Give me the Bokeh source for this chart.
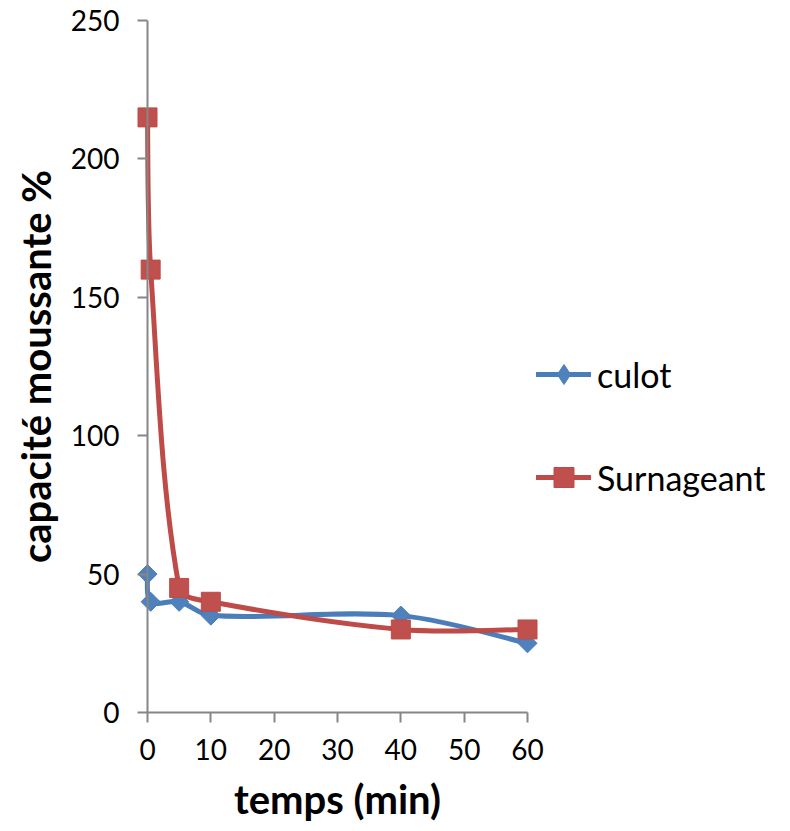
import numpy as np
from bokeh.plotting import figure
from bokeh.models import Range1d, FixedTicker, Legend, LegendItem
from bokeh.embed import file_html
from bokeh.resources import INLINE

# ---- data ----
temps = [0, 0.5, 5, 10, 40, 60]
culot = [50, 40, 40, 35, 35, 25]
surnageant = [215, 160, 45, 40, 30, 30]
x_ticks = [0, 10, 20, 30, 40, 50, 60]
y_ticks = [0, 50, 100, 150, 200, 250]
series_names = ["culot", "Surnageant"]

BLUE_LINE, BLUE_FILL = "#4A7EBB", "#4F81BD"
RED_LINE, RED_FILL = "#BE4B48", "#C0504D"
AXIS_GRAY = "#868686"
FONT = "Lato"

W, H = 790, 831
# plot area: data x 0..60 -> 147..527 px, y 0..250 -> 712..20 px
X0_PX, X60_PX, Y0_PX, Y250_PX = 147, 527, 712, 20
px_per_x = (X60_PX - X0_PX) / 60.0
px_per_y = (Y0_PX - Y250_PX) / 250.0
# the frame covers the whole canvas so that nothing is clipped
x_range = Range1d(-X0_PX / px_per_x, (W - X0_PX) / px_per_x)
y_range = Range1d(-(H - Y0_PX) / px_per_y, Y0_PX / px_per_y)

p = figure(
    frame_width=W, frame_height=H,
    min_border_left=0, min_border_right=0, min_border_top=0, min_border_bottom=0,
    x_range=x_range, y_range=y_range,
    output_backend="svg", toolbar_location=None,
)
p.outline_line_color = None
p.grid.visible = False
p.background_fill_color = "white"
p.border_fill_color = "white"


def smooth_segments(xs, ys):
    """Bezier control points for a smoothed line (tangents scaled by segment length, in px)."""
    n = len(xs)
    px = [x * px_per_x for x in xs]
    py = [y * px_per_y for y in ys]

    def dist(a, b):
        return np.hypot(px[a] - px[b], py[a] - py[b])

    out = {k: [] for k in ["x0", "y0", "x1", "y1", "cx0", "cy0", "cx1", "cy1"]}
    for i in range(n - 1):
        j = i + 1
        im = max(i - 1, 0)
        tx, ty = px[j] - px[im], py[j] - py[im]
        dp, dn = dist(im, i), dist(i, j)
        f = dn / (dp + dn) / 3.0 if im != i else 1.0 / 6.0
        c0x, c0y = px[i] + tx * f, py[i] + ty * f
        jp = min(j + 1, n - 1)
        tx, ty = px[jp] - px[i], py[jp] - py[i]
        dp, dn = dist(i, j), dist(j, jp)
        f = dp / (dp + dn) / 3.0 if jp != j else 1.0 / 6.0
        c1x, c1y = px[j] - tx * f, py[j] - ty * f
        out["x0"].append(xs[i]); out["y0"].append(ys[i])
        out["x1"].append(xs[j]); out["y1"].append(ys[j])
        out["cx0"].append(c0x / px_per_x); out["cy0"].append(c0y / px_per_y)
        out["cx1"].append(c1x / px_per_x); out["cy1"].append(c1y / px_per_y)
    return out


# culot
sb = smooth_segments(temps, culot)
l1 = p.bezier(x0=sb["x0"], y0=sb["y0"], x1=sb["x1"], y1=sb["y1"],
              cx0=sb["cx0"], cy0=sb["cy0"], cx1=sb["cx1"], cy1=sb["cy1"],
              line_color=BLUE_LINE, line_width=5, line_cap="round")
m1 = p.scatter(temps, culot, marker="square", angle=np.pi / 4, size=13.5,
               fill_color=BLUE_FILL, line_color=BLUE_LINE, line_width=1)
# hidden diamond renderer, used only for the legend swatch
m1_leg = p.scatter(temps, culot, marker="diamond", size=20, visible=False,
                   fill_color=BLUE_FILL, line_color=BLUE_LINE, line_width=1)

# surnageant
sr = smooth_segments(temps, surnageant)
l2 = p.bezier(x0=sr["x0"], y0=sr["y0"], x1=sr["x1"], y1=sr["y1"],
              cx0=sr["cx0"], cy0=sr["cy0"], cx1=sr["cx1"], cy1=sr["cy1"],
              line_color=RED_LINE, line_width=5, line_cap="round")
m2 = p.scatter(temps, surnageant, marker="square", size=19,
               fill_color=RED_FILL, line_color=RED_LINE, line_width=1)

# axes, fixed at the data origin
for ax, ticks, bounds in [(p.xaxis[0], x_ticks, (0, 60)), (p.yaxis[0], y_ticks, (0, 250))]:
    ax.ticker = FixedTicker(ticks=ticks)
    ax.bounds = bounds
    ax.fixed_location = 0
    ax.axis_line_color = AXIS_GRAY
    ax.axis_line_width = 2
    ax.major_tick_line_color = AXIS_GRAY
    ax.major_tick_line_width = 2
    ax.major_tick_in = 0
    ax.major_tick_out = 10
    ax.minor_tick_line_color = None
    ax.major_label_text_font = FONT
    ax.major_label_text_font_size = "28px"
    ax.major_label_text_color = "black"
    ax.axis_label_text_font = FONT
    ax.axis_label_text_font_style = "bold"
    ax.axis_label_text_font_size = "40px"
    ax.axis_label_text_color = "black"

p.xaxis.axis_label = "temps (min)"
p.yaxis.axis_label = "capacité moussante %"
p.xaxis.major_label_standoff = 16
p.yaxis.major_label_standoff = 18
p.xaxis.axis_label_standoff = 12
p.yaxis.axis_label_standoff = 8

legend = Legend(
    items=[LegendItem(label=series_names[0], renderers=[l1, m1_leg]),
           LegendItem(label=series_names[1], renderers=[l2, m2])],
    orientation="vertical",
    glyph_width=55, glyph_height=50, label_standoff=6, spacing=53,
    padding=0, margin=0,
    border_line_color=None, background_fill_color=None,
    inactive_fill_alpha=0,
    label_text_font=FONT, label_text_font_size="34px", label_text_color="black",
)
# first item centre at y=376 px -> legend bottom at 502 px
legend.location = (536, H - 502)
p.add_layout(legend, "center")

open("out.html", "w").write(file_html(p, INLINE))
